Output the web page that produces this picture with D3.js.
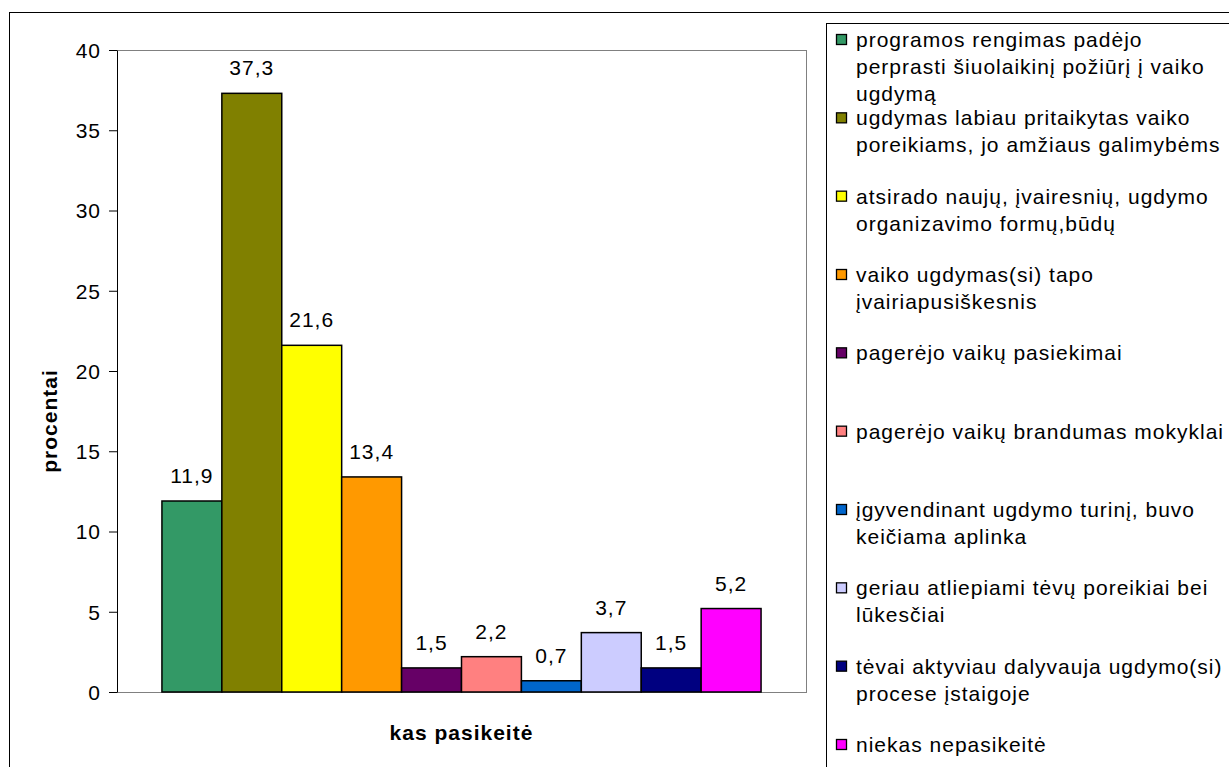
<!DOCTYPE html>
<html>
<head>
<meta charset="utf-8">
<script src="https://cdn.jsdelivr.net/npm/d3@7"></script>
<style>
  body { margin: 0; background: #fff; }
  text { font-family: "Liberation Sans", Arial, sans-serif; font-size: 21px; letter-spacing: 1px; fill: #000; }
  .title { font-weight: bold; }
</style>
</head>
<body>
<svg width="1229" height="767"></svg>
<script>
// data
var category = ["kas pasikeitė"];
var series = [
  "programos rengimas padėjo perprasti šiuolaikinį požiūrį į vaiko ugdymą",
  "ugdymas labiau pritaikytas vaiko poreikiams, jo amžiaus galimybėms",
  "atsirado naujų, įvairesnių, ugdymo organizavimo formų,būdų",
  "vaiko ugdymas(si) tapo įvairiapusiškesnis",
  "pagerėjo vaikų pasiekimai",
  "pagerėjo vaikų brandumas mokyklai",
  "įgyvendinant ugdymo turinį, buvo keičiama aplinka",
  "geriau atliepiami tėvų poreikiai bei lūkesčiai",
  "tėvai aktyviau dalyvauja ugdymo(si) procese įstaigoje",
  "niekas nepasikeitė"
];
var values = [11.9, 37.3, 21.6, 13.4, 1.5, 2.2, 0.7, 3.7, 1.5, 5.2];
var colors = ["#339966", "#808000", "#ffff00", "#ff9900", "#660066",
              "#ff8080", "#0066cc", "#ccccff", "#000080", "#ff00ff"];
var yTicks = [0, 5, 10, 15, 20, 25, 30, 35, 40];
var yTitle = "procentai";

var svg = d3.select("svg"),
    margin = {top: 50, left: 117},
    width = 689,
    height = 642;

// outer chart frame
svg.append("rect")
  .attr("x", 9.5).attr("y", 12.5)
  .attr("width", 1400).attr("height", 900)
  .attr("fill", "#fff").attr("stroke", "#000");

var g = svg.append("g").attr("transform", "translate(" + margin.left + "," + margin.top + ")");

var x0 = d3.scaleBand().domain(category).range([0, width]).paddingInner(0).paddingOuter(0.075);
var x1 = d3.scaleBand().domain(series).range([0, x0.bandwidth()]);
var y = d3.scaleLinear().domain([0, 40]).range([height, 0]);

// plot area border
g.append("rect")
  .attr("x", 0.5).attr("y", 0.5)
  .attr("width", width).attr("height", height)
  .attr("fill", "none").attr("stroke", "#808080");

var fmt = function(v) { return d3.format(".1f")(v).replace(".", ","); };

var bars = g.selectAll(".bar")
  .data(series.map(function(s, i) { return {name: s, value: values[i], color: colors[i]}; }))
  .enter().append("g").attr("class", "bar");

bars.append("rect")
  .attr("x", function(d) { return x0(category[0]) + x1(d.name); })
  .attr("y", function(d) { return y(d.value); })
  .attr("width", x1.bandwidth())
  .attr("height", function(d) { return height - y(d.value); })
  .attr("fill", function(d) { return d.color; })
  .attr("stroke", "#000").attr("stroke-width", 1.5);

bars.append("text")
  .attr("x", function(d) { return x0(category[0]) + x1(d.name) + x1.bandwidth() / 2; })
  .attr("y", function(d) { return y(d.value) - 18; })
  .attr("text-anchor", "middle")
  .text(function(d) { return fmt(d.value); });

// y axis
var yAxis = g.append("g")
  .call(d3.axisLeft(y).tickValues(yTicks).tickSize(8).tickSizeOuter(0).tickPadding(8));
yAxis.attr("font-size", null).attr("font-family", null);
yAxis.select(".domain").attr("stroke", "#000");
yAxis.selectAll("text").attr("dy", "0.35em");

// axis titles
svg.append("text").attr("class", "title")
  .attr("transform", "translate(57," + (margin.top + height / 2 + 50) + ") rotate(-90)")
  .attr("text-anchor", "middle")
  .text(yTitle);

svg.append("text").attr("class", "title")
  .attr("x", margin.left + width / 2).attr("y", 740)
  .attr("text-anchor", "middle")
  .text(category[0]);

// legend
var legend = svg.append("g");
legend.append("rect")
  .attr("x", 826.5).attr("y", 23.5)
  .attr("width", 600).attr("height", 900)
  .attr("fill", "#fff").attr("stroke", "#000");

var yL = d3.scalePoint().domain(series).range([40, 745]);

var item = legend.selectAll(".item")
  .data(series)
  .enter().append("g").attr("class", "item")
  .attr("transform", function(d) { return "translate(0," + yL(d) + ")"; });

item.append("rect")
  .attr("x", 836.5).attr("y", -5.5)
  .attr("width", 10).attr("height", 10)
  .attr("fill", function(d, i) { return colors[i]; })
  .attr("stroke", "#000").attr("stroke-width", 1.3);

item.append("text")
  .attr("x", 856).attr("y", 7)
  .each(function(d) {
    var t = d3.select(this), words = d.split(" "), line = [];
    var ts = t.append("tspan").attr("x", 856).attr("dy", 0);
    words.forEach(function(w) {
      line.push(w);
      ts.text(line.join(" "));
      if (ts.node().getComputedTextLength() > 376 && line.length > 1) {
        line.pop();
        ts.text(line.join(" "));
        line = [w];
        ts = t.append("tspan").attr("x", 856).attr("dy", 27).text(w);
      }
    });
  });
</script>
</body>
</html>
